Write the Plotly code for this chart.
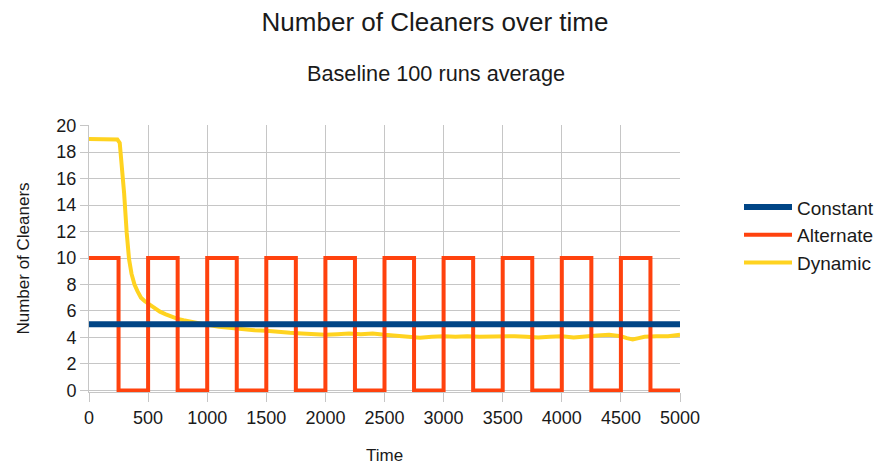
import plotly.graph_objects as go

# ---- data ----
const_t = [0, 5000]
const_v = [5, 5]

alt_t = [0, 250, 500, 750, 1000, 1250, 1500, 1750, 2000, 2250, 2500,
         2750, 3000, 3250, 3500, 3750, 4000, 4250, 4500, 4750, 5000]
alt_v = [10, 0, 10, 0, 10, 0, 10, 0, 10, 0, 10,
         0, 10, 0, 10, 0, 10, 0, 10, 0, 0]

dyn_t = [0, 100, 200, 240, 260, 280, 297, 319, 339, 360, 385, 410, 440, 470, 500,
         550, 600, 650, 700, 750, 800, 850, 900, 1000, 1100, 1200, 1300, 1400,
         1500, 1600, 1700, 1800, 1900, 2000, 2100, 2200, 2300, 2400, 2500, 2600,
         2700, 2800, 2900, 3000, 3100, 3200, 3300, 3400, 3500, 3600, 3700, 3800,
         3900, 4000, 4100, 4200, 4300, 4400, 4500, 4550, 4600, 4650, 4700, 4800,
         4900, 5000]
dyn_v = [19.0, 19.0, 19.0, 18.95, 18.7, 17.0, 14.9, 11.9, 9.9, 8.8, 8.0, 7.5, 7.0, 6.75, 6.55,
         6.2, 5.95, 5.75, 5.55, 5.4, 5.3, 5.2, 5.1, 4.95, 4.8, 4.7, 4.6, 4.55,
         4.5, 4.4, 4.35, 4.3, 4.25, 4.2, 4.25, 4.3, 4.25, 4.3, 4.2, 4.15,
         4.05, 3.98, 4.05, 4.1, 4.05, 4.1, 4.05, 4.08, 4.05, 4.1, 4.05, 4.0,
         4.05, 4.1, 4.0, 4.1, 4.15, 4.2, 4.1, 3.95, 3.85, 3.95, 4.05, 4.1,
         4.1, 4.2]

x_ticks = [0, 500, 1000, 1500, 2000, 2500, 3000, 3500, 4000, 4500, 5000]
y_ticks = [0, 2, 4, 6, 8, 10, 12, 14, 16, 18, 20]

FONT = "Liberation Sans, Arial, sans-serif"
GRID = "#c6c6c6"
TXT = "#1a1a1a"

W, H = 877, 467
ML, MR, MT, MB = 89, 197, 125, 75
plot_w = W - ML - MR
plot_h = H - MT - MB

fig = go.Figure()
fig.add_trace(go.Scatter(x=dyn_t, y=dyn_v, mode="lines", name="Dynamic",
                         line=dict(color="#ffd320", width=4)))
fig.add_trace(go.Scatter(x=alt_t, y=alt_v, mode="lines", name="Alternate",
                         line=dict(color="#ff420e", width=4, shape="hv")))
fig.add_trace(go.Scatter(x=const_t, y=const_v, mode="lines", name="Constant",
                         line=dict(color="#004586", width=6)))

fig.update_layout(
    width=W, height=H,
    paper_bgcolor="white", plot_bgcolor="white",
    margin=dict(l=ML, r=MR, t=MT, b=MB),
    font=dict(family=FONT, color=TXT, size=18),
    showlegend=True,
    legend=dict(traceorder="reversed", xref="container", x=739 / W, xanchor="left",
                yref="paper", y=0.587, yanchor="middle",
                font=dict(size=19, color=TXT), itemwidth=48,
                tracegroupgap=0, bgcolor="rgba(0,0,0,0)"),
    title=dict(text="Number of Cleaners over time", xref="container", x=435 / W,
               xanchor="center", yref="container", y=1 - 22 / H, yanchor="middle",
               font=dict(size=26, color=TXT)),
)
fig.add_annotation(text="Baseline 100 runs average", xref="paper", yref="paper",
                   x=(435.5 - ML) / plot_w, y=1 + (MT - 73) / plot_h,
                   xanchor="center", yanchor="middle", showarrow=False,
                   font=dict(size=21.7, color=TXT))
fig.add_annotation(text="Time", xref="paper", yref="paper",
                   x=0.5, y=-(455 - (H - MB)) / plot_h,
                   xanchor="center", yanchor="middle", showarrow=False,
                   font=dict(size=17, color=TXT))

fig.update_xaxes(range=[0, 5000], tickvals=x_ticks, showgrid=True, gridcolor=GRID,
                 gridwidth=1, zeroline=False, showline=True, linecolor=GRID,
                 ticks="outside", ticklen=9, tickcolor=GRID, automargin=False,
                 tickfont=dict(size=18, color=TXT))
fig.update_yaxes(range=[-0.12, 20.05], tickvals=y_ticks, showgrid=True, gridcolor=GRID,
                 gridwidth=1, zeroline=False, showline=True, linecolor=GRID,
                 ticks="outside", ticklen=8, tickcolor=GRID,
                 tickfont=dict(size=18, color=TXT),
                 title=dict(text="Number of Cleaners", font=dict(size=17, color=TXT),
                            standoff=22))

fig.write_html("out.html", config={"displayModeBar": False},
               post_script="document.body.style.margin='0';document.body.style.overflow='hidden';")
